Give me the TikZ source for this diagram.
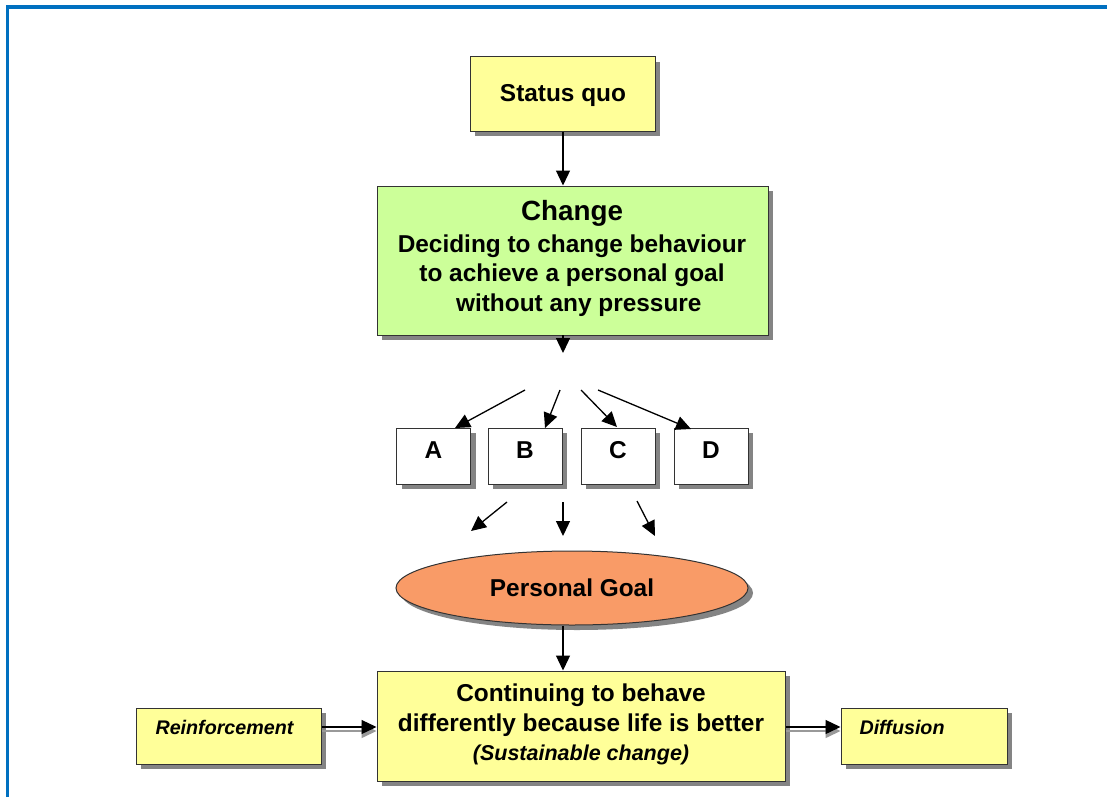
\documentclass[tikz,border=0pt]{standalone}
\usepackage{fontspec}
\setmainfont{Liberation Sans}
\usetikzlibrary{arrows.meta,shapes.geometric,shadows}
\definecolor{frameblue}{HTML}{0070C0}
\definecolor{paleyellow}{HTML}{FFFF99}
\definecolor{palegreen}{HTML}{CCFF99}
\definecolor{salmon}{HTML}{F99B67}
\begin{document}
\begin{tikzpicture}[x=1pt,y=-1pt,
  boxshadow/.style={drop shadow={shadow xshift=5pt,shadow yshift=-5pt,fill=black!60,opacity=0.8}},
  pbox/.style={draw=black!80,line width=1pt,inner sep=0pt,boxshadow,align=center,
    font=\fontsize{24.4}{29.5}\selectfont\bfseries},
  sidebox/.style={pbox,fill=paleyellow,minimum width=185pt,minimum height=56pt,
    font=\fontsize{19.7}{24}\selectfont\bfseries\itshape},
  letterbox/.style={pbox,fill=white,minimum width=74pt,minimum height=56pt},
  arr/.style={-{Triangle[length=15pt,width=14pt]},line width=1.3pt,black},
  arrshadow/.style={-{Triangle[length=15pt,width=14pt]},line width=1.5pt,black!40}
]
\useasboundingbox (0,0) rectangle (1107,797);
\fill[white] (0,0) rectangle (1107,797);
% page frame, open at right and bottom
\draw[frameblue,line width=3.5pt] (7.5,797) -- (7.5,6.8) -- (1107,6.8);

% nodes
\node[pbox,fill=paleyellow,minimum width=185pt,minimum height=74pt] (sq) at (562.5,94) {};
\node[font=\fontsize{24.4}{29.5}\selectfont\bfseries] (sqt) at (563,96) {Status quo};
\node[pbox,fill=palegreen,minimum width=391pt,minimum height=149pt] (chg) at (572.5,260.5) {};
\node[font=\fontsize{27.8}{32}\selectfont\bfseries] (chgt) at (572,213.5) {Change};
\node[font=\fontsize{24.4}{29.5}\selectfont\bfseries,align=center,anchor=north] (chgb) at (572,231)
  {Deciding to change behaviour\\to achieve a personal goal\\\ \ without any pressure};

\node[letterbox] (a) at (433.5,456) {};
\node[letterbox] (b) at (525,456) {};
\node[letterbox] (c) at (618,456) {};
\node[letterbox] (d) at (711,456) {};
\foreach \n/\t in {a/A,b/B,c/C,d/D}
  \node[font=\fontsize{24.4}{29.5}\selectfont\bfseries] (\n t) at ([yshift=6pt]\n) {\t};

\node[ellipse,draw=black!80,line width=1pt,fill=salmon,boxshadow,inner sep=0pt,
  minimum width=352pt,minimum height=74pt,font=\fontsize{24.4}{29.5}\selectfont\bfseries] (goal) at (572,588) {Personal Goal};

\node[pbox,fill=paleyellow,minimum width=408pt,minimum height=110pt] (cont) at (581,726) {};
\node[font=\fontsize{24.4}{29.5}\selectfont\bfseries,align=center] (contt) at (581,724.5)
  {Continuing to behave\\differently because life is better\\{\fontsize{21.5}{29.5}\selectfont\itshape (Sustainable change)}};

\node[sidebox] (reinf) at (228.5,736) {};
\node[font=\fontsize{19.7}{24}\selectfont\bfseries\itshape,anchor=west] (reinft) at (152,727) {Reinforcement};
\node[sidebox,minimum width=166pt] (diff) at (924,736) {};
\node[font=\fontsize{19.7}{24}\selectfont\bfseries\itshape,anchor=west] (difft) at (856,727) {Diffusion};

% free arrow ends
\coordinate (c1) at (563,335);  \coordinate (c1e) at (563,353);
\coordinate (fa) at (525,390); \coordinate (fb) at (560,390);
\coordinate (fc) at (581,390); \coordinate (fd) at (598,390);
\coordinate (ga) at (507,502); \coordinate (gae) at (471,531);
\coordinate (gb) at (563,502); \coordinate (gbe) at (563,536);
\coordinate (gc) at (637,501); \coordinate (gce) at (655,536);

% connectors
\draw[arr] (sq.south -| 563,0) -- (chg.north -| 563,0);
\draw[arr] (c1) -- (c1e);
\draw[arr] (fa) -- (455,428);
\draw[arr] (fb) -- (545,428);
\draw[arr] (fc) -- (617,427);
\draw[arr] (fd) -- (691,429);
\draw[arr] (ga) -- (gae);
\draw[arr] (gb) -- (gbe);
\draw[arr] (gc) -- (gce);
\draw[arr] (goal.south -| 563,0) -- (cont.north -| 563,0);

% side arrows with their shadows
\draw[arrshadow] (reinf.east |- 0,731) -- (cont.west |- 0,731);
\draw[arr] (reinf.east |- 0,727) -- (cont.west |- 0,727);
\draw[arrshadow] (cont.east |- 0,731) -- (diff.west |- 0,731);
\draw[arr] (cont.east |- 0,727) -- (diff.west |- 0,727);
\end{tikzpicture}
\end{document}
